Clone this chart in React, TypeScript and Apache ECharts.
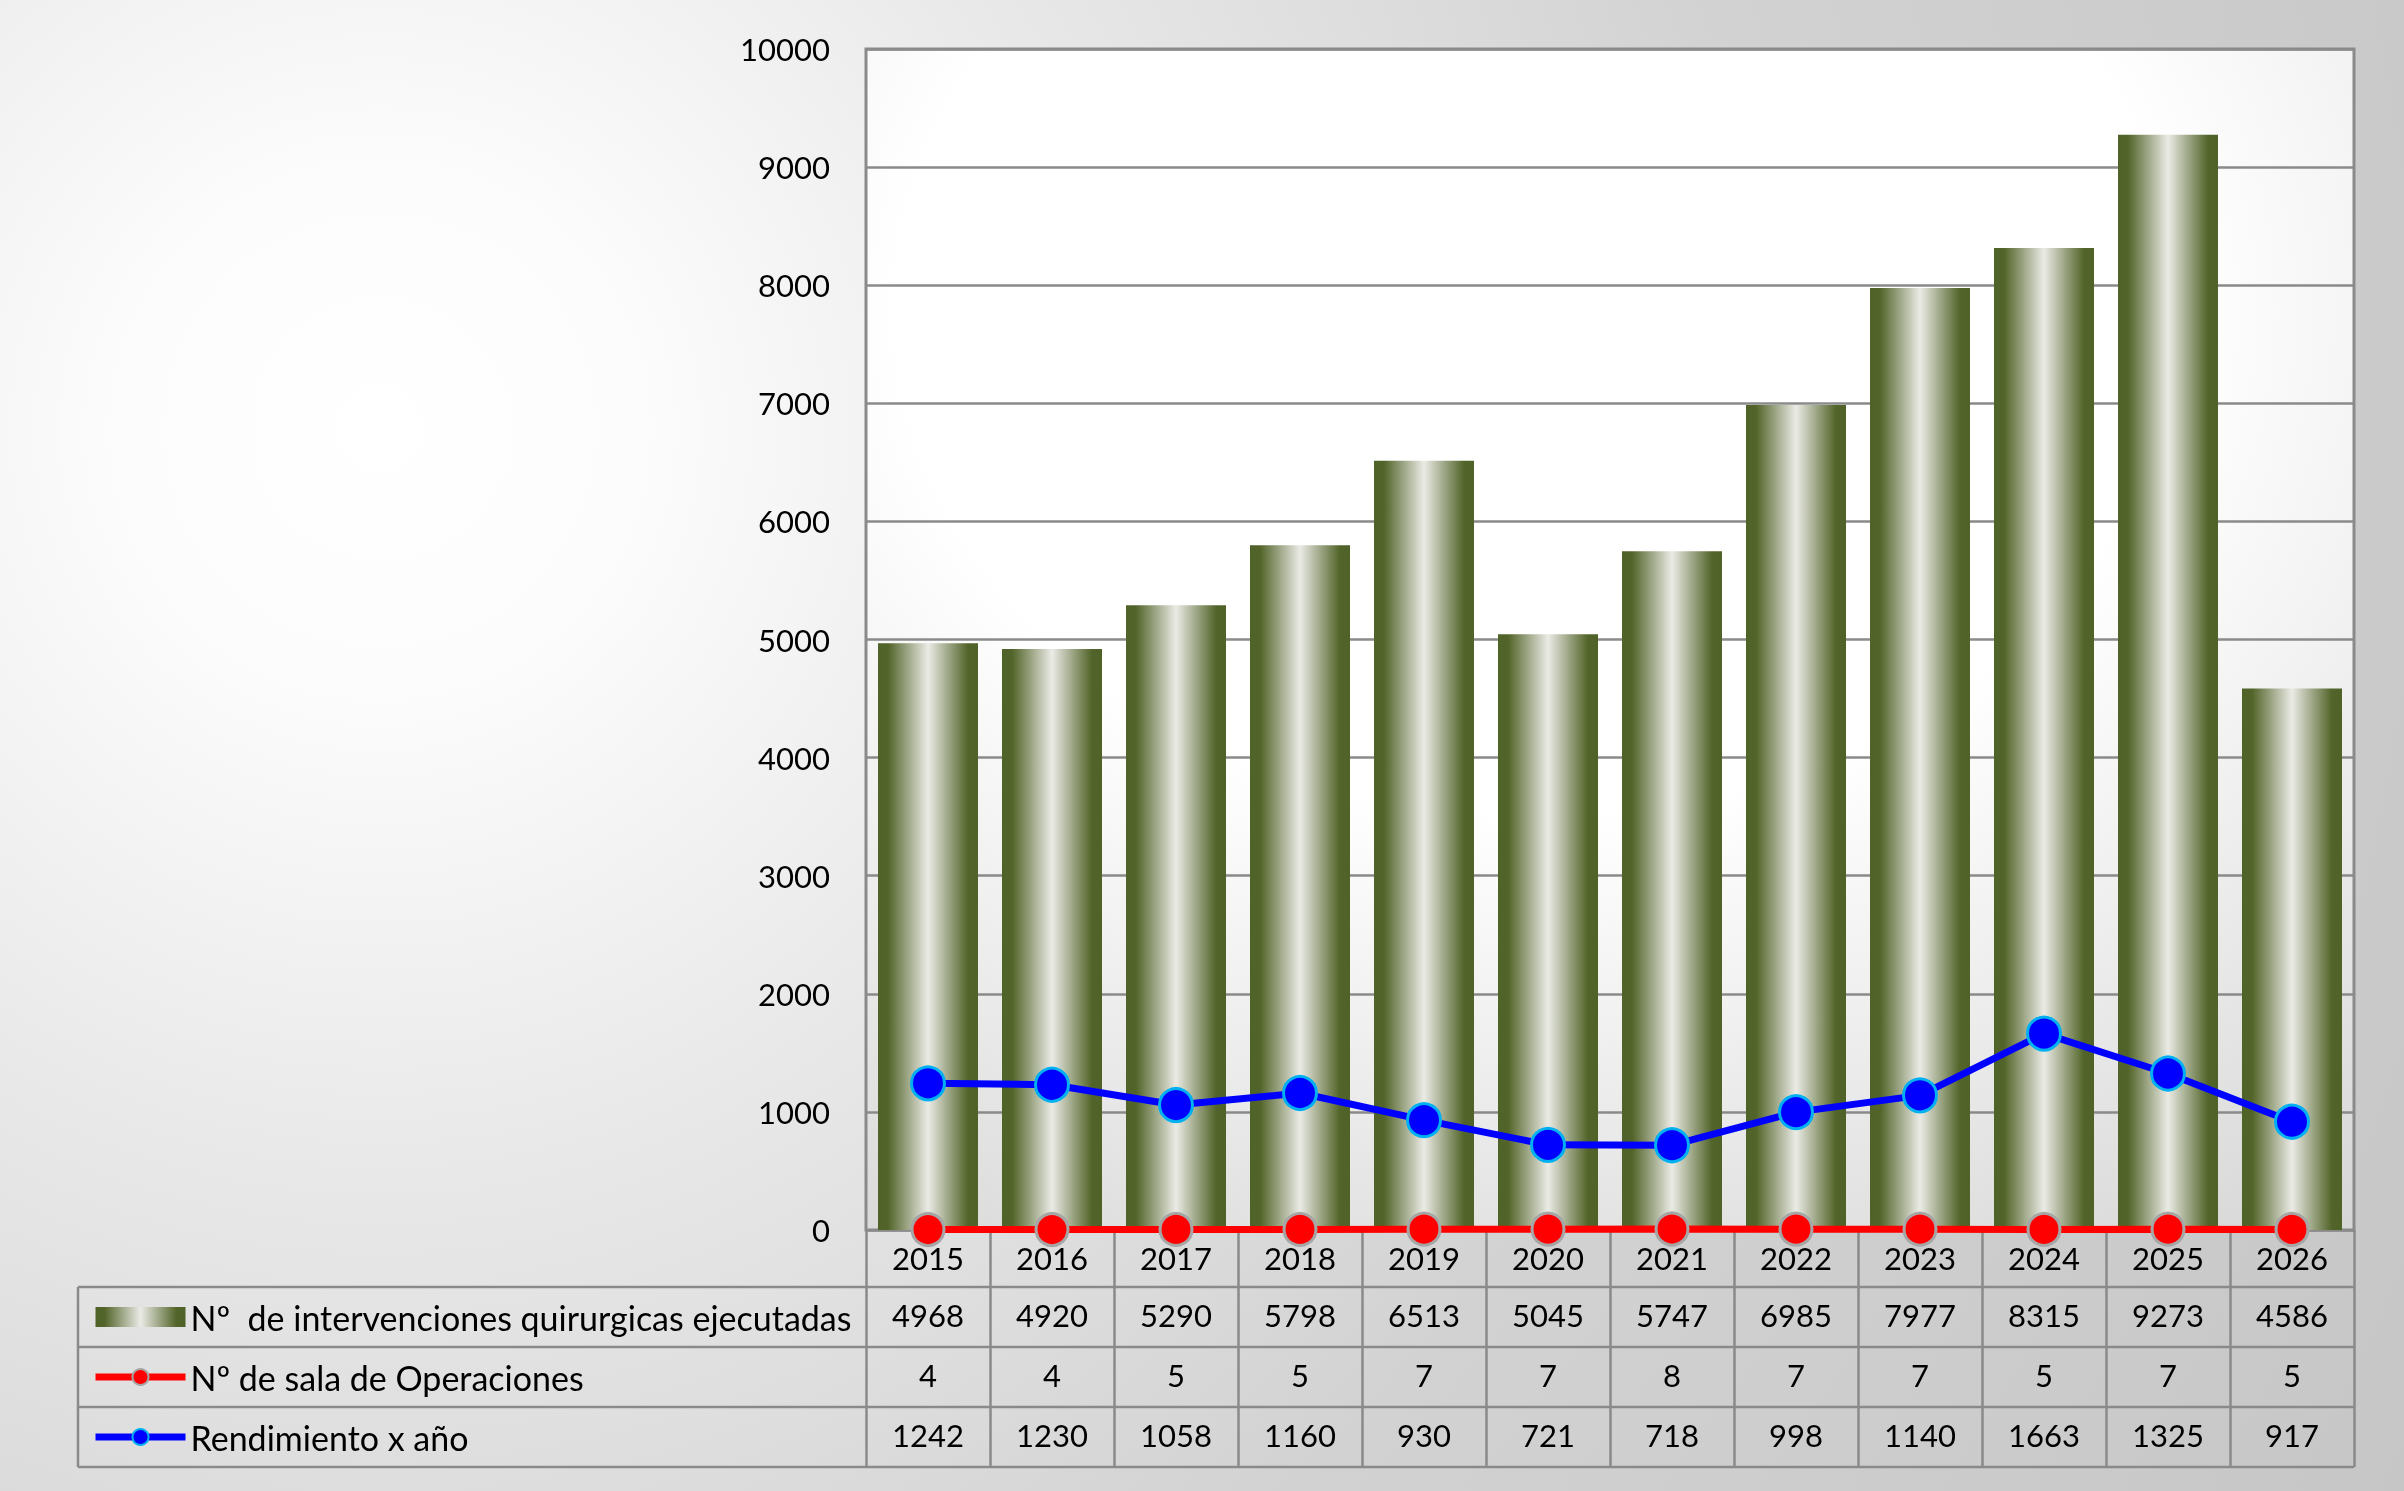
import React, { useEffect, useRef } from "react";
import * as echarts from "echarts";

const years = ["2015", "2016", "2017", "2018", "2019", "2020", "2021", "2022", "2023", "2024", "2025", "2026"];
const interventions = [4968, 4920, 5290, 5798, 6513, 5045, 5747, 6985, 7977, 8315, 9273, 4586];
const rooms = [4, 4, 5, 5, 7, 7, 8, 7, 7, 5, 7, 5];
const performance = [1242, 1230, 1058, 1160, 930, 721, 718, 998, 1140, 1663, 1325, 917];
const seriesNames = [
  "Nº  de intervenciones quirurgicas ejecutadas",
  "Nº de sala de Operaciones",
  "Rendimiento x año",
];
const yMin = 0;
const yMax = 10000;
const yInterval = 1000;

const W = 2404;
const H = 1491;
const PLOT_LEFT = 866;
const PLOT_RIGHT = 2354;
const PLOT_TOP = 49;
const PLOT_BOTTOM = 1230;
const TABLE_LEFT = 78;
const ROW_EDGES = [1287, 1347, 1407, 1467];
const FONT = "Lato, 'Open Sans', sans-serif";
const GRID_COLOR = "#8a8a8a";
const FS = 31;

const barGradient = new echarts.graphic.LinearGradient(0, 0, 1, 0, [
  { offset: 0, color: "#4f6228" },
  { offset: 0.1, color: "#526429" },
  { offset: 0.5, color: "#ebebe6" },
  { offset: 0.9, color: "#526429" },
  { offset: 1, color: "#4f6228" },
]);

export default function App() {
  const ref = useRef<HTMLDivElement>(null);

  useEffect(() => {
    if (!ref.current) return;
    const chart = echarts.init(ref.current, undefined, { renderer: "svg", width: W, height: H });

    const rowAxis = (offset: number, values: (number | string)[]) => ({
      type: "category",
      data: years,
      position: "bottom",
      offset,
      axisLine: { show: false },
      axisTick: { show: false },
      axisLabel: {
        interval: 0,
        margin: 12,
        fontSize: FS,
        fontFamily: FONT,
        color: "#000",
        formatter: (_v: string, i: number) => String(values[i]),
      },
    });

    const graphics: any[] = [];
    ROW_EDGES.forEach((y) => {
      graphics.push({
        type: "line",
        shape: { x1: TABLE_LEFT, y1: y, x2: PLOT_RIGHT, y2: y },
        style: { stroke: GRID_COLOR, lineWidth: 2.5 },
        silent: true,
      });
    });
    graphics.push({
      type: "line",
      shape: { x1: TABLE_LEFT, y1: ROW_EDGES[0], x2: TABLE_LEFT, y2: ROW_EDGES[ROW_EDGES.length - 1] },
      style: { stroke: GRID_COLOR, lineWidth: 2.5 },
      silent: true,
    });

    chart.setOption({
      animation: false,
      backgroundColor: "transparent",
      textStyle: { fontFamily: FONT },
      grid: {
        left: PLOT_LEFT,
        right: W - PLOT_RIGHT,
        top: PLOT_TOP,
        bottom: H - PLOT_BOTTOM,
        show: true,
        borderColor: GRID_COLOR,
        borderWidth: 3,
        backgroundColor: {
          type: "radial",
          x: 0.45,
          y: 0.22,
          r: 0.95,
          colorStops: [
            { offset: 0, color: "#ffffff" },
            { offset: 0.45, color: "#ffffff" },
            { offset: 1, color: "#d6d6d6" },
          ],
        },
      },
      legend: {
        orient: "vertical",
        left: 92,
        top: 1297,
        padding: 0,
        itemGap: 20,
        itemWidth: 90,
        itemHeight: 20,
        selectedMode: false,
        textStyle: { fontSize: 34, fontFamily: FONT, color: "#000", lineHeight: 40 },
        data: [
          { name: seriesNames[0], icon: "rect" },
          { name: seriesNames[1], lineStyle: { width: 7 }, itemStyle: { borderWidth: 2 } },
          { name: seriesNames[2], lineStyle: { width: 7 }, itemStyle: { borderWidth: 2 } },
        ],
      },
      xAxis: [
        {
          type: "category",
          data: years,
          position: "bottom",
          axisLine: { show: false },
          axisTick: {
            show: true,
            interval: 0,
            length: ROW_EDGES[ROW_EDGES.length - 1] - PLOT_BOTTOM,
            lineStyle: { color: GRID_COLOR, width: 2.5 },
          },
          axisLabel: { interval: 0, margin: 12, fontSize: FS, fontFamily: FONT, color: "#000" },
        },
        rowAxis(ROW_EDGES[0] - PLOT_BOTTOM, interventions),
        rowAxis(ROW_EDGES[1] - PLOT_BOTTOM, rooms),
        rowAxis(ROW_EDGES[2] - PLOT_BOTTOM, performance),
      ],
      yAxis: {
        type: "value",
        min: yMin,
        max: yMax,
        interval: yInterval,
        axisLine: { show: false },
        axisTick: { show: false },
        axisLabel: {
          margin: 36,
          fontSize: FS,
          fontFamily: FONT,
          color: "#000",
          formatter: (v: number) => String(v),
        },
        splitLine: { lineStyle: { color: GRID_COLOR, width: 2.5 } },
      },
      series: [
        {
          name: seriesNames[0],
          type: "bar",
          data: interventions,
          barWidth: 100,
          itemStyle: { color: barGradient },
          z: 2,
        },
        {
          name: seriesNames[1],
          type: "line",
          data: rooms,
          symbol: "circle",
          symbolSize: 32,
          lineStyle: { color: "#ff0000", width: 7 },
          itemStyle: { color: "#ff0000", borderColor: "#a6a6a6", borderWidth: 3 },
          clip: false,
          z: 4,
        },
        {
          name: seriesNames[2],
          type: "line",
          data: performance,
          symbol: "circle",
          symbolSize: 33,
          lineStyle: { color: "#0000ff", width: 7 },
          itemStyle: { color: "#0000ff", borderColor: "#00b0f0", borderWidth: 3 },
          z: 5,
        },
      ],
      graphic: graphics,
    });

    return () => chart.dispose();
  }, []);

  return (
    <div
      style={{
        position: "fixed",
        left: 0,
        top: 0,
        width: W,
        height: H,
        background:
          "radial-gradient(circle at 380px 430px, #ffffff 0px, #fcfcfc 260px, #e8e8e8 750px, #d2d2d2 1400px, #c6c6c6 2300px)",
      }}
    >
      <div ref={ref} style={{ width: W, height: H }} />
    </div>
  );
}
